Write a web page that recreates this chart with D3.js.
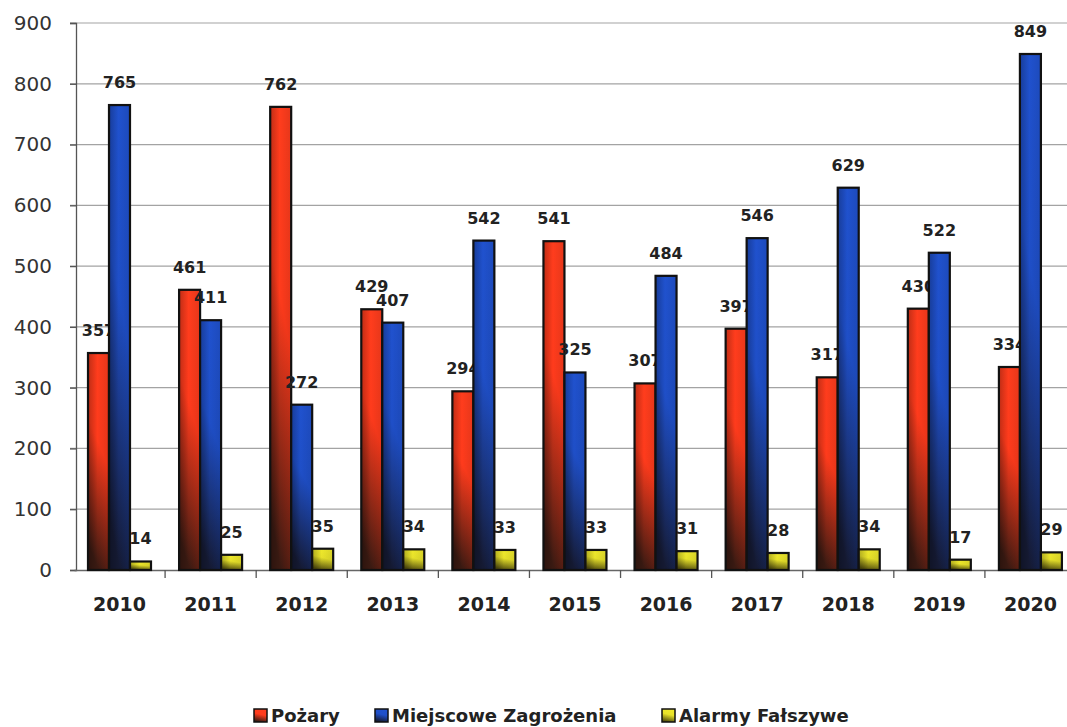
<!DOCTYPE html>
<html>
<head>
<meta charset="utf-8">
<script src="https://cdn.jsdelivr.net/npm/d3@7/dist/d3.min.js"></script>
<style>
  html, body { margin: 0; padding: 0; background: #fff; }
  svg { display: block; }
</style>
</head>
<body>
<svg id="chart" width="1067" height="727"></svg>
<script>
const years = ["2010","2011","2012","2013","2014","2015","2016","2017","2018","2019","2020"];
const seriesNames = ["Pożary", "Miejscowe Zagrożenia", "Alarmy Fałszywe"];
const pozary = [357, 461, 762, 429, 294, 541, 307, 397, 317, 430, 334];
const miejscowe = [765, 411, 272, 407, 542, 325, 484, 546, 629, 522, 849];
const alarmy = [14, 25, 35, 34, 33, 33, 31, 28, 34, 17, 29];
const yTicks = [0, 100, 200, 300, 400, 500, 600, 700, 800, 900];

const seriesColors = ["#ff3b1c", "#1f4fc8", "#e8e22a"];
const seriesDark = ["#3a1a12", "#151a33", "#55500e"];

const svg = d3.select("#chart");
const W = 1067, H = 727;
const font = "'DejaVu Sans', sans-serif";

const x = d3.scaleBand().domain(years).range([74, 1076]).paddingInner(0).paddingOuter(0);
const x1 = d3.scaleBand().domain(d3.range(3)).range([14, 77]).padding(0);
const y = d3.scaleLinear().domain([0, 900]).range([570, 23]);

// gradients
const defs = svg.append("defs");
seriesColors.forEach((c, i) => {
  const g = defs.append("linearGradient").attr("id", "grad" + i)
    .attr("x1", 0.62).attr("y1", 0).attr("x2", 0.38).attr("y2", 1);
  g.append("stop").attr("offset", "0").attr("stop-color", d3.color(c).brighter(0.1));
  g.append("stop").attr("offset", "0.42").attr("stop-color", c);
  g.append("stop").attr("offset", "0.97").attr("stop-color", seriesDark[i]);
  const h = defs.append("linearGradient").attr("id", "hgrad" + i)
    .attr("x1", 0).attr("y1", 0).attr("x2", 1).attr("y2", 0);
  h.append("stop").attr("offset", "0").attr("stop-color", "#000").attr("stop-opacity", 0.25);
  h.append("stop").attr("offset", "0.45").attr("stop-color", "#000").attr("stop-opacity", 0);
  h.append("stop").attr("offset", "1").attr("stop-color", "#000").attr("stop-opacity", 0.1);
});

// gridlines
svg.append("g").selectAll("line").data(yTicks.filter(d => d > 0)).join("line")
  .attr("x1", 70).attr("x2", W).attr("y1", d => y(d)).attr("y2", d => y(d))
  .attr("stroke", "#a3a3a3").attr("stroke-width", 1.2);

// y axis
const yAxis = d3.axisLeft(y).tickValues(yTicks).tickSize(6).tickPadding(18);
const gy = svg.append("g").attr("transform", "translate(76,0)").call(yAxis);
gy.select(".domain").attr("stroke", "#555").attr("stroke-width", 1.3);
gy.selectAll(".tick line").attr("stroke", "#555").attr("stroke-width", 1.3);
gy.selectAll(".tick text").attr("font-family", font).attr("font-size", 20)
  .attr("fill", "#333");

// x axis
const xAxis = d3.axisBottom(x).tickSize(0).tickPadding(28);
const gx = svg.append("g").attr("transform", "translate(0,570)").call(xAxis);
gx.select(".domain").attr("stroke", "#666").attr("stroke-width", 1.3);
gx.selectAll(".tick text").attr("font-family", font).attr("font-size", 19)
  .attr("font-weight", "bold").attr("fill", "#222");
// tick marks at category boundaries
svg.append("g").selectAll("line").data(years.slice(1)).join("line")
  .attr("x1", d => x(d)).attr("x2", d => x(d)).attr("y1", 570).attr("y2", 578)
  .attr("stroke", "#555").attr("stroke-width", 1.3);

const data = [pozary, miejscowe, alarmy];

function drawBars(si) {
  const g = svg.append("g");
  const vals = data[si];
  g.selectAll("rect.b").data(years).join("rect").attr("class", "b")
    .attr("x", d => x(d) + x1(si)).attr("width", x1.bandwidth())
    .attr("y", (d, i) => y(vals[i])).attr("height", (d, i) => y(0) - y(vals[i]))
    .attr("fill", "url(#grad" + si + ")");
  g.selectAll("rect.h").data(years).join("rect").attr("class", "h")
    .attr("x", d => x(d) + x1(si)).attr("width", x1.bandwidth())
    .attr("y", (d, i) => y(vals[i])).attr("height", (d, i) => y(0) - y(vals[i]))
    .attr("fill", "url(#hgrad" + si + ")")
    .attr("stroke", "#111").attr("stroke-width", 2.2);
}

function drawLabels() {
  const g = svg.append("g");
  data.forEach((vals, si) => {
    g.selectAll("text.s" + si).data(years).join("text").attr("class", "s" + si)
      .attr("x", d => x(d) + x1(si) + x1.bandwidth() / 2)
      .attr("y", (d, i) => y(vals[i]) - 17)
      .attr("text-anchor", "middle")
      .attr("font-family", font).attr("font-size", 16).attr("font-weight", "bold")
      .attr("fill", "#222")
      .text((d, i) => vals[i]);
  });
}

drawBars(0);
drawLabels();
drawBars(1);
drawBars(2);

// legend
const legendX = [254, 375, 662];
const lg = svg.append("g");
seriesNames.forEach((n, i) => {
  lg.append("rect").attr("x", legendX[i]).attr("y", 709).attr("width", 13).attr("height", 13)
    .attr("fill", "url(#grad" + i + ")").attr("stroke", "#111").attr("stroke-width", 1.5);
  lg.append("text").attr("x", legendX[i] + 17).attr("y", 722)
    .attr("font-family", font).attr("font-size", 18).attr("font-weight", "bold")
    .attr("fill", "#222").text(n);
});
</script>
</body>
</html>
